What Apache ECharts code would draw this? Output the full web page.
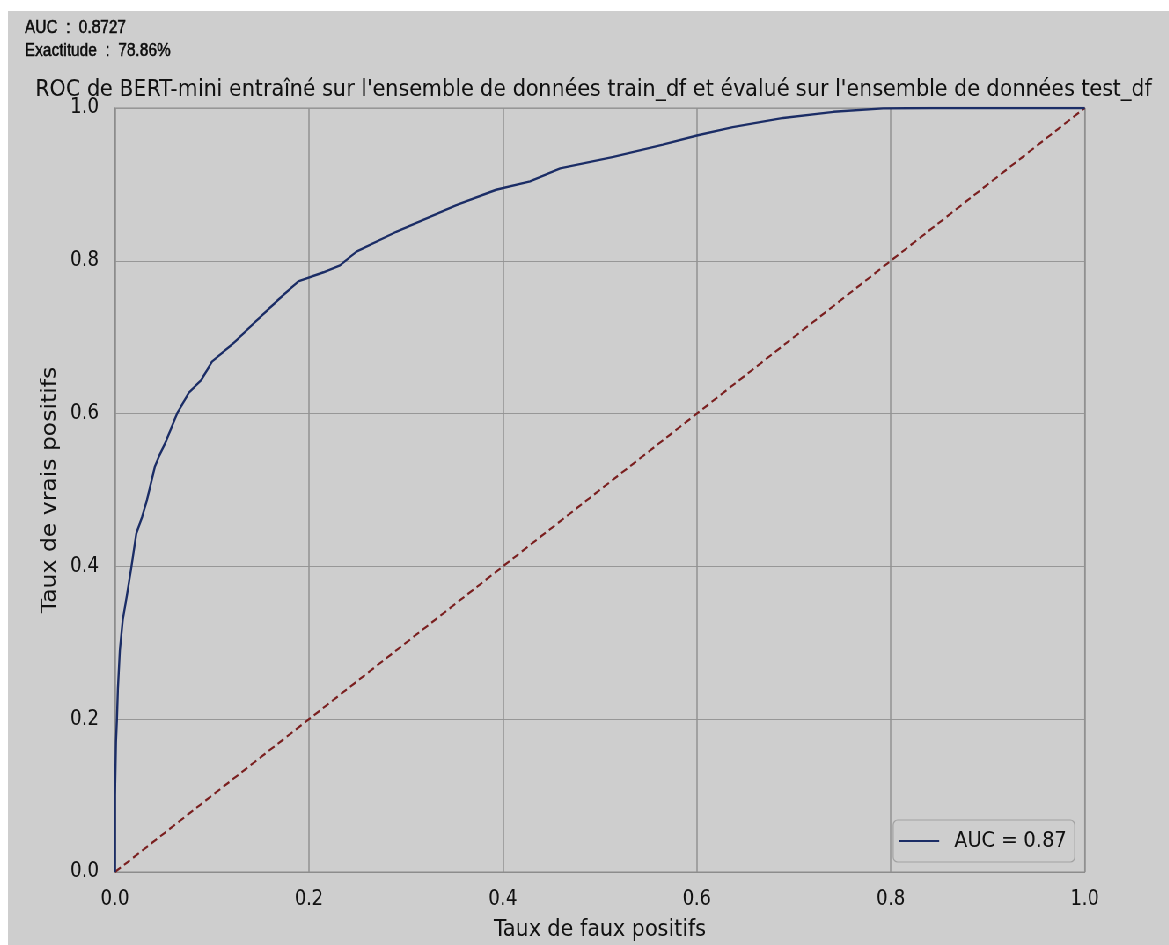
<!DOCTYPE html>
<html>
<head>
<meta charset="utf-8">
<title>ROC BERT-mini</title>
<script src="https://cdn.jsdelivr.net/npm/echarts@6/dist/echarts.min.js"></script>
<style>
  html, body { margin: 0; padding: 0; background: #ffffff; overflow: hidden; width: 1169px; height: 945px; }
  #chart { position: absolute; left: 8px; top: 11px; height: 934px; background: #cecece; transform-origin: 0 0; }
</style>
</head>
<body>
<div id="chart"></div>
<script>
// ROC curve of BERT-mini (false positive rate vs true positive rate)
const fpr = [0.000, 0.000, 0.000, 0.001, 0.002, 0.003, 0.005, 0.008, 0.012, 0.017, 0.022, 0.028, 0.033,
  0.041, 0.045, 0.053, 0.064, 0.076, 0.089, 0.100, 0.122, 0.143, 0.170, 0.189, 0.215, 0.232, 0.249,
  0.290, 0.352, 0.393, 0.428, 0.459, 0.514, 0.565, 0.600, 0.637, 0.689, 0.741, 0.792, 0.843, 0.900, 1.000];
const tpr = [0.000, 0.050, 0.100, 0.170, 0.200, 0.240, 0.290, 0.330, 0.360, 0.400, 0.443, 0.465, 0.487,
  0.530, 0.543, 0.565, 0.600, 0.627, 0.644, 0.668, 0.692, 0.718, 0.751, 0.773, 0.785, 0.794, 0.812,
  0.838, 0.873, 0.893, 0.904, 0.921, 0.936, 0.952, 0.964, 0.975, 0.987, 0.995, 0.9995, 1.000, 1.000, 1.000];
// chance line
const chanceX = [0, 1];
const chanceY = [0, 1];
const xTicks = [0, 0.2, 0.4, 0.6, 0.8, 1.0];
const yTicks = [0, 0.2, 0.4, 0.6, 0.8, 1.0];
const aucValue = 0.8727;
const accuracy = 78.86;
const legendName = 'AUC = 0.87';
const titleText = "ROC de BERT-mini entraîné sur l'ensemble de données train_df et évalué sur l'ensemble de données test_df";

const rocPoints = fpr.map((x, i) => [x, tpr[i]]);
const chancePoints = chanceX.map((x, i) => [x, chanceY[i]]);

// the figure is drawn with a condensed horizontal scale
const SX = 0.88;
const W = 1161, H = 934;
const el = document.getElementById('chart');
el.style.width = (W / SX) + 'px';
el.style.transform = 'scaleX(' + SX + ')';
const hx = v => v / SX;

const chart = echarts.init(el, null, { renderer: 'canvas' });
const font = 'DejaVu Sans';
const ink = '#111111';

chart.setOption({
  backgroundColor: '#cecece',
  animation: false,
  textStyle: { fontFamily: font },
  graphic: [
    { type: 'text', x: hx(585.5), y: 79,
      style: { text: titleText, fontFamily: font, fontSize: 23.5, fill: ink, align: 'center', verticalAlign: 'middle' } },
    { type: 'text', x: hx(17), y: 17.5,
      style: { text: 'AUC  :  ' + aucValue.toFixed(4), fontFamily: 'Liberation Sans', fontSize: 17.5, fill: '#0a0a0a',
        stroke: '#0a0a0a', lineWidth: 0.5, verticalAlign: 'middle' } },
    { type: 'text', x: hx(17), y: 40.5,
      style: { text: 'Exactitude  :  ' + accuracy.toFixed(2) + '%', fontFamily: 'Liberation Sans', fontSize: 17.5, fill: '#0a0a0a',
        stroke: '#0a0a0a', lineWidth: 0.5, verticalAlign: 'middle' } }
  ],
  grid: {
    left: hx(107), top: 97, right: hx(84), bottom: 73,
    outerBoundsMode: 'none', containLabel: false,
    show: true, borderColor: '#8c8c8c', borderWidth: 1.2, backgroundColor: 'transparent'
  },
  legend: {
    data: [{ name: legendName, icon: 'rect' }],
    right: hx(94), top: 809,
    backgroundColor: '#cecece',
    borderColor: '#a2a2a2', borderWidth: 1.2, borderRadius: 5,
    padding: [10, hx(8), 10, hx(6)],
    itemWidth: hx(40), itemHeight: 2, itemGap: 10,
    textStyle: { fontFamily: font, fontSize: 22, color: ink, padding: [0, 0, 0, 12] }
  },
  xAxis: {
    type: 'value', min: xTicks[0], max: xTicks[xTicks.length - 1], interval: 0.2,
    name: 'Taux de faux positifs', nameLocation: 'middle', nameGap: 46,
    nameTextStyle: { fontFamily: font, fontSize: 23.5, color: ink },
    axisLine: { show: true, lineStyle: { color: '#8c8c8c', width: 1.2 } },
    axisTick: { show: false },
    axisLabel: { fontFamily: font, fontSize: 20.5, color: ink, margin: 17, formatter: v => v.toFixed(1) },
    splitLine: { show: true, lineStyle: { color: '#929292', width: 1.5 } }
  },
  yAxis: {
    type: 'value', min: yTicks[0], max: yTicks[yTicks.length - 1], interval: 0.2,
    name: 'Taux de vrais positifs', nameLocation: 'middle', nameGap: 58,
    nameTextStyle: { fontFamily: font, fontSize: 23.5, color: ink },
    axisLine: { show: true, lineStyle: { color: '#8c8c8c', width: 1.2 } },
    axisTick: { show: false },
    axisLabel: { fontFamily: font, fontSize: 20.5, color: ink, margin: hx(16), formatter: v => v.toFixed(1) },
    splitLine: { show: true, lineStyle: { color: '#979797', width: 1.2 } }
  },
  series: [
    {
      name: legendName, type: 'line', data: rocPoints,
      symbol: 'none', smooth: false, z: 3,
      lineStyle: { color: '#1b2d66', width: 2.4 },
      itemStyle: { color: '#1b2d66' }
    },
    {
      name: 'chance', type: 'line', data: chancePoints,
      symbol: 'none', z: 2,
      lineStyle: { color: '#7a1f1f', width: 2.2, type: [8, 4.5] },
      itemStyle: { color: '#7a1f1f' }
    }
  ]
});
</script>
</body>
</html>
